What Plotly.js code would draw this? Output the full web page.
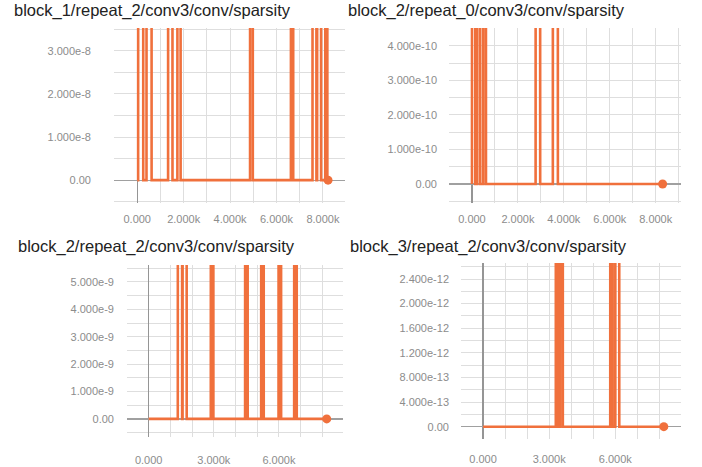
<!DOCTYPE html>
<html>
<head>
<meta charset="utf-8">
<script src="https://cdn.plot.ly/plotly-3.0.1.min.js"></script>
<style>html,body{margin:0;padding:0;background:#fff;}#chart{width:702px;height:467px;}</style>
</head>
<body>
<div id="chart"></div>
<script>
// ---- data (step, sparsity) ----
var titles = [
  "block_1/repeat_2/conv3/conv/sparsity",
  "block_2/repeat_0/conv3/conv/sparsity",
  "block_2/repeat_2/conv3/conv/sparsity",
  "block_3/repeat_2/conv3/conv/sparsity"
];

var steps1 = [0, 40, 70, 230, 260, 400, 430, 590, 620, 1330, 1360, 1490, 1520, 1730, 1760, 1840, 1870,
  4860, 4890, 4950, 4980, 6620, 6645, 6695, 6720, 7550, 7580, 7690, 7720, 7750, 7780, 7890, 7920,
  8100, 8125, 8165, 8190, 8220];
var values1 = [0, 0, 1e-6, 1e-6, 0, 0, 1e-6, 1e-6, 0, 0, 1e-6, 1e-6, 0, 0, 1e-6, 1e-6, 0,
  0, 1e-6, 1e-6, 0, 0, 1e-6, 1e-6, 0, 0, 1e-6, 1e-6, 0, 0, 1e-6, 1e-6, 0,
  0, 1e-6, 1e-6, 0, 0];

var steps2 = [0, 30, 115, 145, 230, 260, 330, 360, 490, 520, 580, 610,
  2770, 2800, 2940, 2970, 3520, 3550, 3710, 3740, 8300];
var values2 = [0, 1e-8, 1e-8, 0, 0, 1e-8, 1e-8, 0, 0, 1e-8, 1e-8, 0,
  0, 1e-8, 1e-8, 0, 0, 1e-8, 1e-8, 0, 0];

var steps3 = [0, 1340, 1370, 1510, 1540, 1560, 1590, 1720, 1750, 2860, 2890, 2950, 2980,
  4440, 4470, 4530, 4560, 5180, 5210, 5270, 5300, 5980, 6010, 6070, 6100,
  6700, 6730, 6790, 6820, 8200];
var values3 = [0, 0, 1e-7, 1e-7, 0, 0, 1e-7, 1e-7, 0, 0, 1e-7, 1e-7, 0,
  0, 1e-7, 1e-7, 0, 0, 1e-7, 1e-7, 0, 0, 1e-7, 1e-7, 0,
  0, 1e-7, 1e-7, 0, 0];

var steps4 = [0, 3300, 3330, 3380, 3410, 3500, 3530, 3590, 3620,
  5770, 5800, 5850, 5880, 6000, 6030, 6150, 6180, 8200];
var values4 = [0, 0, 1e-10, 1e-10, 0, 0, 1e-10, 1e-10, 0,
  0, 1e-10, 1e-10, 0, 0, 1e-10, 1e-10, 0, 0];

// tick positions / labels
var xTickVals = [-1000, 0, 1000, 2000, 3000, 4000, 5000, 6000, 7000, 8000, 9000];
var xTickTextA = ["", "0.000", "", "2.000k", "", "4.000k", "", "6.000k", "", "8.000k", ""];
var xTickTextB = ["", "0.000", "", "", "3.000k", "", "", "6.000k", "", "", ""];

var yTickVals1 = [-0.5e-8, 0, 0.5e-8, 1e-8, 1.5e-8, 2e-8, 2.5e-8, 3e-8, 3.5e-8];
var yTickText1 = ["", "0.00", "", "1.000e-8", "", "2.000e-8", "", "3.000e-8", ""];
var yTickVals2 = [-0.5e-10, 0, 0.5e-10, 1e-10, 1.5e-10, 2e-10, 2.5e-10, 3e-10, 3.5e-10, 4e-10, 4.5e-10];
var yTickText2 = ["", "0.00", "", "1.000e-10", "", "2.000e-10", "", "3.000e-10", "", "4.000e-10", ""];
var yTickVals3 = [-0.5e-9, 0, 0.5e-9, 1e-9, 1.5e-9, 2e-9, 2.5e-9, 3e-9, 3.5e-9, 4e-9, 4.5e-9, 5e-9, 5.5e-9];
var yTickText3 = ["", "0.00", "", "1.000e-9", "", "2.000e-9", "", "3.000e-9", "", "4.000e-9", "", "5.000e-9", ""];
var yTickVals4 = [-2e-13, 0, 2e-13, 4e-13, 6e-13, 8e-13, 10e-13, 12e-13, 14e-13, 16e-13, 18e-13, 20e-13, 22e-13, 24e-13, 26e-13];
var yTickText4 = ["", "0.00", "", "4.000e-13", "", "8.000e-13", "", "1.200e-12", "", "1.600e-12", "", "2.000e-12", "", "2.400e-12", ""];

// ---- build ----
var W = 702, H = 467;
var ORANGE = "#f0703c";
var series = [[steps1, values1], [steps2, values2], [steps3, values3], [steps4, values4]];
var axisIds = [["x", "y"], ["x2", "y2"], ["x3", "y3"], ["x4", "y4"]];

var traces = [];
series.forEach(function (s, i) {
  traces.push({
    x: s[0], y: s[1], xaxis: axisIds[i][0], yaxis: axisIds[i][1],
    type: "scatter", mode: "lines", line: {color: ORANGE, width: 2.6},
    hoverinfo: "skip", showlegend: false, cliponaxis: true
  });
  var n = s[0].length - 1;
  traces.push({
    x: [s[0][n]], y: [s[1][n]], xaxis: axisIds[i][0], yaxis: axisIds[i][1],
    type: "scatter", mode: "markers", marker: {color: ORANGE, size: 9},
    hoverinfo: "skip", showlegend: false, cliponaxis: false
  });
});

// pixel boxes: [left, right, top, bottom]
var boxes = [[114, 345, 28, 203], [449, 681, 28, 203], [127, 343, 265, 437], [461, 681, 263, 439]];
var xRanges = [[-1000, 8950], [-1000, 9100], [-1000, 8950], [-1000, 8980]];
var yRanges = [[-0.53e-8, 3.53e-8], [-0.55e-10, 4.52e-10], [-0.66e-9, 5.62e-9], [-2e-13, 2.66e-12]];
var yVals = [yTickVals1, yTickVals2, yTickVals3, yTickVals4];
var yTexts = [yTickText1, yTickText2, yTickText3, yTickText4];
var xTexts = [xTickTextA, xTickTextA, xTickTextB, xTickTextB];
var yStand = [22, 11, 12, 11];
var xStand = [8, 8, 15, 12];
var titlePos = [[12, 11], [346, 11], [16, 246], [348, 246]];

var tickFont = {family: "Liberation Sans, Arial, sans-serif", size: 11, color: "#8c8c8c"};
var layout = {
  width: W, height: H,
  margin: {l: 0, r: 0, t: 0, b: 0},
  paper_bgcolor: "#ffffff", plot_bgcolor: "#ffffff",
  showlegend: false,
  annotations: []
};
boxes.forEach(function (b, i) {
  var xk = i === 0 ? "xaxis" : "xaxis" + (i + 1);
  var yk = i === 0 ? "yaxis" : "yaxis" + (i + 1);
  layout[xk] = {
    domain: [b[0] / W, b[1] / W], anchor: axisIds[i][1],
    range: xRanges[i], tickmode: "array", tickvals: xTickVals, ticktext: xTexts[i],
    showgrid: true, gridcolor: "#dedede", gridwidth: 1,
    zeroline: true, zerolinecolor: "#959595", zerolinewidth: 1.3,
    showline: false, ticks: "", tickfont: tickFont, ticklabelstandoff: xStand[i],
    fixedrange: true
  };
  layout[yk] = {
    domain: [1 - b[3] / H, 1 - b[2] / H], anchor: axisIds[i][0],
    range: yRanges[i], tickmode: "array", tickvals: yVals[i], ticktext: yTexts[i],
    showgrid: true, gridcolor: "#dedede", gridwidth: 1,
    zeroline: true, zerolinecolor: "#a0a0a0", zerolinewidth: 1.3,
    showline: false, ticks: "", tickfont: tickFont, ticklabelstandoff: yStand[i],
    fixedrange: true
  };
  layout.annotations.push({
    text: titles[i], xref: "paper", yref: "paper",
    x: titlePos[i][0] / W, y: 1 - titlePos[i][1] / H,
    xanchor: "left", yanchor: "middle", showarrow: false,
    font: {family: "Liberation Sans, Arial, sans-serif", size: 16.5, color: "#222222"}
  });
});

Plotly.newPlot("chart", traces, layout, {displayModeBar: false, staticPlot: true});
</script>
</body>
</html>
